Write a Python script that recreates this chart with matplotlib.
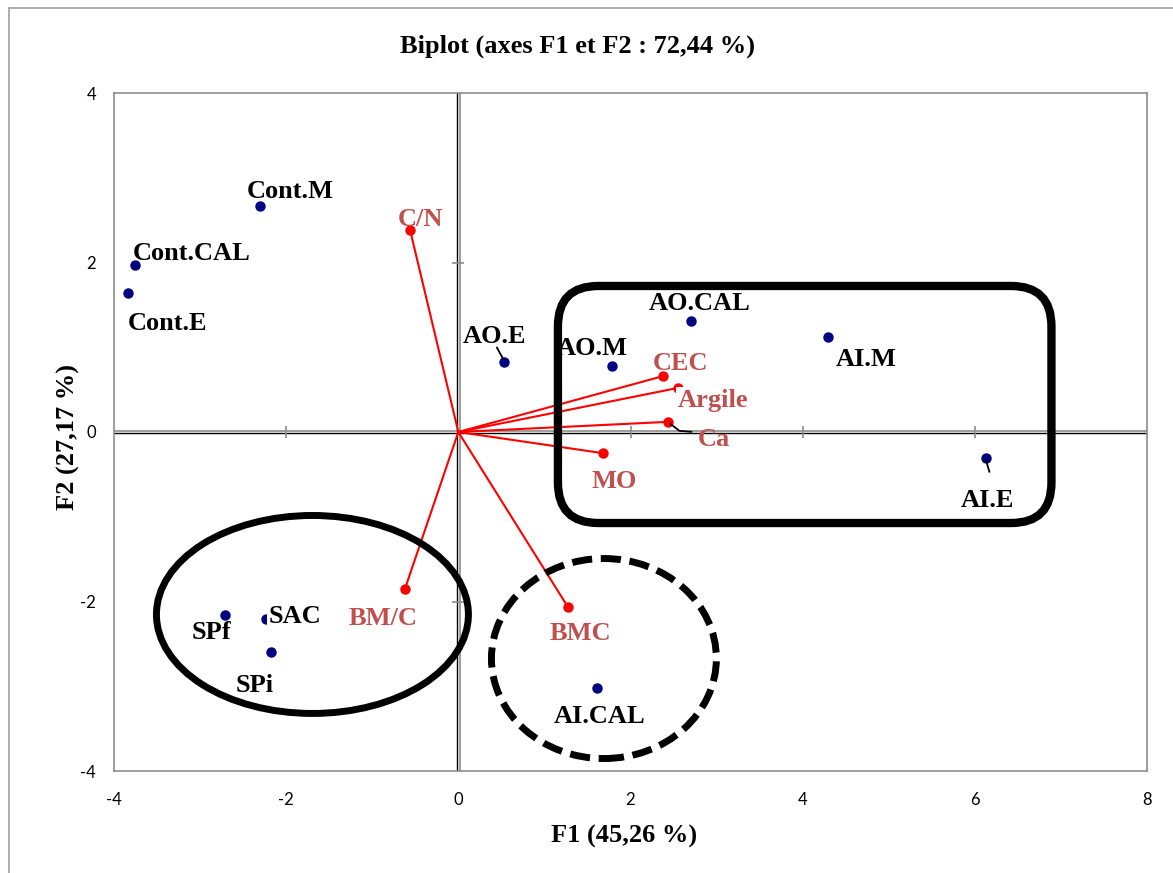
import matplotlib
matplotlib.use("Agg")
import matplotlib.pyplot as plt
from matplotlib.patches import FancyBboxPatch, Ellipse
from matplotlib.lines import Line2D
from matplotlib.transforms import offset_copy

# ---------------- data ----------------
obs_names = ["Cont.M", "Cont.CAL", "Cont.E", "AO.E", "AO.M", "AO.CAL",
             "AI.M", "AI.E", "AI.CAL", "SPf", "SAC", "SPi"]
obs_f1 = [-2.30, -3.76, -3.84, 0.53, 1.79, 2.70, 4.29, 6.13, 1.61, -2.71, -2.24, -2.18]
obs_f2 = [2.67, 1.97, 1.64, 0.83, 0.78, 1.31, 1.12, -0.31, -3.02, -2.16, -2.21, -2.60]

var_names = ["C/N", "CEC", "Argile", "Ca", "MO", "BM/C", "BMC"]
var_f1 = [-0.56, 2.38, 2.55, 2.44, 1.68, -0.62, 1.27]
var_f2 = [2.38, 0.66, 0.52, 0.12, -0.25, -1.85, -2.06]

x_ticks = [-4, -2, 0, 2, 4, 6, 8]
y_ticks = [-4, -2, 0, 2, 4]

title = "Biplot (axes F1 et F2 : 72,44 %)"
x_label = "F1 (45,26 %)"
y_label = "F2 (27,17 %)"

# ---------------- styles ----------------
W, H = 1173, 873
SERIF = "Liberation Serif"
TICKFONT = "Lato"
LBL_SIZE = 19
NAVY = "#000080"
RED = "#FF0000"
RED_TXT = "#C0504D"
GRAY = "#8C8C8C"

# label offsets (pixels, text centre relative to marker; y up)
lbl_off = {
    "Cont.M": (30, 16), "Cont.CAL": (57, 14), "Cont.E": (40, -28),
    "AO.E": (-9, 27), "AO.M": (-20, 20), "AO.CAL": (9, 20),
    "AI.M": (39, -20), "AI.E": (1.5, -40), "AI.CAL": (3, -26),
    "SPf": (-14, -15), "SAC": (29, 5), "SPi": (-16, -31),
    "C/N": (10, 13), "CEC": (17, 15), "Argile": (35, -10),
    "Ca": (45, -15), "MO": (11, -26), "BM/C": (-22, -28), "BMC": (13, -25),
}
masked_labels = {"SAC", "Argile"}

fig = plt.figure(figsize=(W / 100, H / 100), dpi=100)
fig.patch.set_facecolor("white")

L, R, T, B = 114, 1147, 93, 771
ax = fig.add_axes([L / W, 1 - B / H, (R - L) / W, (B - T) / H])
ax.set_xlim(x_ticks[0], x_ticks[-1])
ax.set_ylim(y_ticks[0], y_ticks[-1])
ax.set_xticks(x_ticks)
ax.set_yticks(y_ticks)
ax.set_xticklabels([str(v) for v in x_ticks])
ax.set_yticklabels([str(v) for v in y_ticks])
ax.tick_params(length=0, labelsize=12, colors="black")
ax.tick_params(axis="y", pad=13)
ax.tick_params(axis="x", pad=15)
for lab in ax.get_xticklabels() + ax.get_yticklabels():
    lab.set_fontfamily(TICKFONT)
for sp in ax.spines.values():
    sp.set_color(GRAY)
    sp.set_linewidth(1.2)

# outer chart border (partially visible)
fig.add_artist(Line2D([9 / W, 9 / W], [0, 1 - 8 / H], color="#A0A0A0", lw=1.2))
fig.add_artist(Line2D([9 / W, 1], [1 - 8 / H, 1 - 8 / H], color="#A0A0A0", lw=1.2))

# zero axes: double line (gray + black)
yt = ax.get_yaxis_transform()
xt = ax.get_xaxis_transform()
ax.plot([0, 1], [0, 0], color=GRAY, lw=1.2, transform=offset_copy(yt, fig, y=1.0, units="dots"), zorder=2)
ax.plot([0, 1], [0, 0], color="black", lw=1.0, transform=offset_copy(yt, fig, y=-0.8, units="dots"), zorder=2)
ax.plot([0, 0], [0, 1], color=GRAY, lw=1.2, transform=offset_copy(xt, fig, x=1.2, units="dots"), zorder=2)
ax.plot([0, 0], [0, 1], color="black", lw=1.0, transform=offset_copy(xt, fig, x=-1.0, units="dots"), zorder=2)
inner_x = [v for v in x_ticks if v not in (x_ticks[0], 0, x_ticks[-1])]
inner_y = [v for v in y_ticks if v not in (y_ticks[0], 0, y_ticks[-1])]
ax.plot(inner_x, [0] * len(inner_x), ls="none", marker="|", ms=8.6, mew=1.2, color=GRAY, zorder=2)
ax.plot([0] * len(inner_y), inner_y, ls="none", marker="_", ms=8.6, mew=1.2, color=GRAY, zorder=2)

# variable vectors
for x, y in zip(var_f1, var_f2):
    ax.plot([0, x], [0, y], color=RED, lw=1.5, zorder=3, solid_capstyle="round")
ax.plot(var_f1, var_f2, ls="none", marker="o", ms=6.5, color=RED, zorder=4)

# observations
ax.plot(obs_f1, obs_f2, ls="none", marker="o", ms=6.5, color=NAVY, zorder=4)

def add_label(name, x, y, color):
    dx, dy = lbl_off[name]
    kw = {}
    if name in masked_labels:
        kw["bbox"] = dict(facecolor="white", edgecolor="none", pad=1.0)
    ax.annotate(name, (x, y), xytext=(dx, dy - 8.7), textcoords="offset pixels",
                ha="center", va="baseline", fontsize=LBL_SIZE, fontweight="bold",
                family=SERIF, color=color, zorder=6, **kw)

for n, x, y in zip(obs_names, obs_f1, obs_f2):
    add_label(n, x, y, "black")
for n, x, y in zip(var_names, var_f1, var_f2):
    add_label(n, x, y, RED_TXT)

# leader lines (pixel offsets from marker)
def leader(x, y, pts, color="black"):
    fig.canvas.draw()
    px, py = ax.transData.transform((x, y))
    inv = ax.transData.inverted()
    xs, ys = [], []
    for dx, dy in pts:
        dxy = inv.transform((px + dx, py + dy))
        xs.append(dxy[0]); ys.append(dxy[1])
    ax.plot(xs, ys, color=color, lw=1.3, zorder=5)

i = obs_names.index("AO.E")
leader(obs_f1[i], obs_f2[i], [(-7, 14), (-1, 3)])
i = obs_names.index("AI.E")
leader(obs_f1[i], obs_f2[i], [(0, -2), (3.3, -13.4)])
i = var_names.index("Ca")
leader(var_f1[i], var_f2[i], [(2, -2), (11, -9), (23, -10)])

# group shapes
rect = FancyBboxPatch((1.157, -1.074), 5.733, 2.797,
                      boxstyle="round,pad=0,rounding_size=0.47",
                      mutation_aspect=1.016, fill=False, ec="black", lw=6, zorder=5)
ax.add_patch(rect)
ell1 = Ellipse((-1.695, -2.153), 3.624, 2.336, fill=False, ec="black", lw=5, zorder=5)
ax.add_patch(ell1)
ell2 = Ellipse((1.691, -2.673), 2.613, 2.36, fill=False, ec="black", lw=5,
               ls=(0, (2.9, 1.25)), zorder=5)
ell2.set_capstyle("butt")
ax.add_patch(ell2)

# titles
fig.text(577 / W, 1 - 53 / H, title, ha="center", va="baseline", fontsize=LBL_SIZE,
         fontweight="bold", family=SERIF)
fig.text(624 / W, 1 - 843 / H, x_label, ha="center", va="baseline", fontsize=LBL_SIZE,
         fontweight="bold", family=SERIF)
fig.text(68 / W, 1 - 437 / H, y_label, ha="center", va="center", rotation=90,
         fontsize=LBL_SIZE, fontweight="bold", family=SERIF)

fig.savefig("out.png", dpi=100)
